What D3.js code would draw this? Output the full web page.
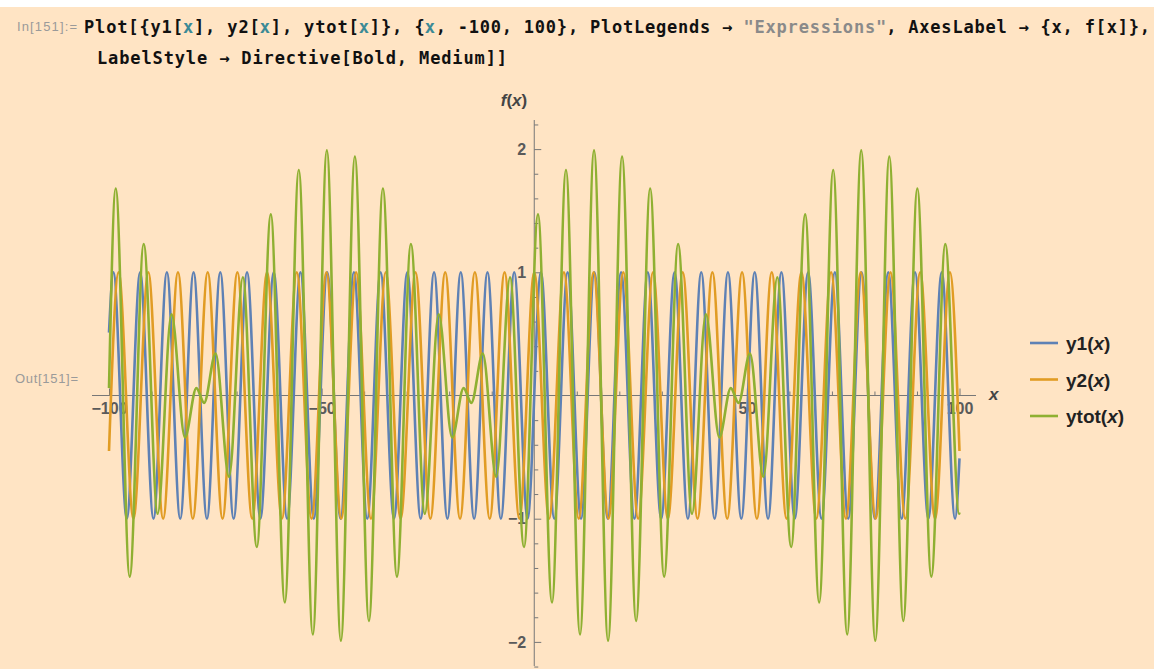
<!DOCTYPE html>
<meta charset="utf-8">
<style>

body {
  margin: 0;
  background: #fff;
}

.code {
  font: bold 17px "DejaVu Sans Mono", monospace;
  fill: #111;
}

.cell {
  font: 13px "Liberation Sans", Arial, sans-serif;
  fill: #9a9a9a;
}

.axis path {
  display: none;
}

.axis line {
  stroke: #777;
}

.axis text {
  font: bold 16px "Liberation Sans", Arial, sans-serif;
  fill: #5a5a5a;
}

.series {
  fill: none;
  stroke-width: 2.6px;
  stroke-linejoin: round;
}

.axis-label {
  font: bold 17px "Liberation Sans", Arial, sans-serif;
  fill: #444;
}

.legend text {
  font: bold 19px "Liberation Sans", Arial, sans-serif;
  fill: #222;
}

</style>
<svg width="1154" height="669"></svg>
<script src="https://cdn.jsdelivr.net/npm/d3@7"></script>
<script>

// points: both ends of the range plus every turning point
var y1X = [-100, -98.96, -95.82, -92.68, -89.54, -86.39, -83.25, -80.11, -76.97, -73.83, -70.69,
  -67.54, -64.40, -61.26, -58.12, -54.98, -51.84, -48.69, -45.55, -42.41, -39.27, -36.13, -32.99,
  -29.85, -26.70, -23.56, -20.42, -17.28, -14.14, -11.00, -7.85, -4.71, -1.57, 1.57, 4.71, 7.85,
  11.00, 14.14, 17.28, 20.42, 23.56, 26.70, 29.85, 32.99, 36.13, 39.27, 42.41, 45.55, 48.69, 51.84,
  54.98, 58.12, 61.26, 64.40, 67.54, 70.69, 73.83, 76.97, 80.11, 83.25, 86.39, 89.54, 92.68, 95.82,
  98.96, 100];
var y1Y = [0.51, 1, -1, 1, -1, 1, -1, 1, -1, 1, -1, 1, -1, 1, -1, 1, -1, 1, -1, 1, -1, 1, -1,
  1, -1, 1, -1, 1, -1, 1, -1, 1, -1, 1, -1, 1, -1, 1, -1, 1, -1, 1, -1, 1, -1, 1, -1, 1, -1,
  1, -1, 1, -1, 1, -1, 1, -1, 1, -1, 1, -1, 1, -1, 1, -1, -0.51];

var y2X = [-100, -97.74, -94.25, -90.76, -87.27, -83.78, -80.29, -76.79, -73.30, -69.81, -66.32,
  -62.83, -59.34, -55.85, -52.36, -48.87, -45.38, -41.89, -38.40, -34.91, -31.42, -27.93, -24.43,
  -20.94, -17.45, -13.96, -10.47, -6.98, -3.49, 0, 3.49, 6.98, 10.47, 13.96, 17.45, 20.94, 24.43,
  27.93, 31.42, 34.91, 38.40, 41.89, 45.38, 48.87, 52.36, 55.85, 59.34, 62.83, 66.32, 69.81, 73.30,
  76.79, 80.29, 83.78, 87.27, 90.76, 94.25, 97.74, 100];
var y2Y = [-0.45, 1, -1, 1, -1, 1, -1, 1, -1, 1, -1, 1, -1, 1, -1, 1, -1, 1, -1, 1, -1, 1, -1,
  1, -1, 1, -1, 1, -1, 1, -1, 1, -1, 1, -1, 1, -1, 1, -1, 1, -1, 1, -1, 1, -1, 1, -1, 1, -1,
  1, -1, 1, -1, 1, -1, 1, -1, 1, -0.45];

var ytotX = [-100, -98.42, -95.13, -91.84, -88.56, -85.31, -82.14, -79.45, -77.63, -74.94, -71.77,
  -68.52, -65.24, -61.95, -58.66, -55.37, -52.07, -48.77, -45.47, -42.18, -38.88, -35.59, -32.29,
  -29.01, -25.73, -22.48, -19.31, -16.61, -14.80, -12.10, -8.94, -5.69, -2.41, 0.88, 4.17, 7.46,
  10.76, 14.06, 17.36, 20.65, 23.95, 27.25, 30.54, 33.83, 37.10, 40.35, 43.52, 46.22, 48.03, 50.73,
  53.89, 57.15, 60.42, 63.71, 67.00, 70.30, 73.59, 76.89, 80.19, 83.49, 86.78, 90.08, 93.37, 96.66,
  99.93, 100];
var ytotY = [0.06, 1.68, -1.47, 1.23, -0.96, 0.66, -0.34, 0.06, -0.06, 0.34, -0.66, 0.96, -1.23,
  1.47, -1.68, 1.83, -1.94, 1.99, -1.99, 1.94, -1.83, 1.68, -1.47, 1.23, -0.96, 0.66, -0.34, 0.06,
  -0.06, 0.34, -0.66, 0.96, -1.23, 1.47, -1.68, 1.83, -1.94, 1.99, -1.99, 1.94, -1.83, 1.68, -1.47,
  1.23, -0.96, 0.66, -0.34, 0.06, -0.06, 0.34, -0.66, 0.96, -1.23, 1.47, -1.68, 1.83, -1.94, 1.99,
  -1.99, 1.94, -1.83, 1.68, -1.47, 1.23, -0.96, -0.95];

var seriesNames = ["y1", "y2", "ytot"];
var seriesColors = ["#5e81b5", "#e19c24", "#8fb032"];

var xMajor = [-100, -50, 50, 100];
var xMinor = [-90, -80, -70, -60, -40, -30, -20, -10, 10, 20, 30, 40, 60, 70, 80, 90];
var yMajor = [-2, -1, 1, 2];
var yMinor = [-2.2, -1.8, -1.6, -1.4, -1.2, -0.8, -0.6, -0.4, -0.2, 0.2, 0.4, 0.6, 0.8,
  1.2, 1.4, 1.6, 1.8, 2.2];

var codeLine1 = [
  ["Plot[{y1[", "#111"], ["x", "#3b8a96"], ["], y2[", "#111"], ["x", "#3b8a96"],
  ["], ytot[", "#111"], ["x", "#3b8a96"], ["]}, {", "#111"], ["x", "#3b8a96"],
  [", -100, 100}, PlotLegends \u2192 ", "#111"], ["\"Expressions\"", "#8a8a8a"],
  [", AxesLabel \u2192 {x, f[x]},", "#111"]
];
var codeLine2 = [["LabelStyle \u2192 Directive[Bold, Medium]]", "#111"]];

var svg = d3.select("svg"),
    width = +svg.attr("width"),
    height = +svg.attr("height");

svg.append("rect")
    .attr("x", 0).attr("y", 7)
    .attr("width", width).attr("height", height - 7)
    .attr("fill", "#ffe4c4");

// notebook cell text
function codeLine(parts, x0, x1, y) {
  var n = d3.sum(parts, function(p) { return p[0].length; }),
      cw = (x1 - x0) / n,
      t = svg.append("text").attr("class", "code").attr("y", y),
      k = 0;
  parts.forEach(function(p) {
    t.append("tspan")
        .attr("x", x0 + k * cw)
        .attr("textLength", p[0].length * cw)
        .attr("lengthAdjust", "spacing")
        .style("fill", p[1])
        .text(p[0]);
    k += p[0].length;
  });
}
codeLine(codeLine1, 84, 1150, 33);
codeLine(codeLine2, 97, 507, 64);

svg.append("text").attr("class", "cell").attr("x", 17).attr("y", 31)
    .attr("textLength", 60).attr("lengthAdjust", "spacing").text("In[151]:=");
svg.append("text").attr("class", "cell").attr("x", 15).attr("y", 383)
    .attr("textLength", 63).attr("lengthAdjust", "spacing").text("Out[151]=");

var x = d3.scaleLinear().domain([-100, 100]).range([109, 959.5]),
    y = d3.scaleLinear().domain([-2, 2]).range([641.9, 149.1]);

// axis lines
svg.append("line")
    .attr("x1", 92).attr("x2", 976)
    .attr("y1", y(0)).attr("y2", y(0))
    .attr("stroke", "#777");
svg.append("line")
    .attr("x1", x(0)).attr("x2", x(0))
    .attr("y1", 120).attr("y2", 666)
    .attr("stroke", "#777");

var gx = svg.append("g").attr("transform", "translate(0," + y(0) + ")");
gx.append("g").attr("class", "axis")
    .call(d3.axisTop(x).tickValues(xMinor).tickSize(4).tickFormat(""));
gx.append("g").attr("class", "axis")
    .call(d3.axisTop(x).tickValues(xMajor).tickSize(7).tickFormat(""));
gx.append("g").attr("class", "axis")
    .call(d3.axisBottom(x).tickValues(xMajor).tickSize(0).tickPadding(7).tickFormat(d3.format("d")));

var gy = svg.append("g").attr("transform", "translate(" + x(0) + ",0)");
gy.append("g").attr("class", "axis")
    .call(d3.axisRight(y).tickValues(yMinor).tickSize(4).tickFormat(""));
gy.append("g").attr("class", "axis")
    .call(d3.axisRight(y).tickValues(yMajor).tickSize(7).tickFormat(""));
gy.append("g").attr("class", "axis")
    .call(d3.axisLeft(y).tickValues(yMajor).tickSize(0).tickPadding(8).tickFormat(d3.format("d")));

// the three curves
var line = d3.line()
    .x(function(d) { return x(d[0]); })
    .y(function(d) { return y(d[1]); })
    .curve(d3.curveMonotoneX);

var series = [d3.zip(y1X, y1Y), d3.zip(y2X, y2Y), d3.zip(ytotX, ytotY)];

svg.selectAll(".series")
    .data(series)
  .enter().append("path")
    .attr("class", "series")
    .attr("stroke", function(d, i) { return seriesColors[i]; })
    .attr("d", line);

// axis labels
var xl = svg.append("text").attr("class", "axis-label").attr("x", 989).attr("y", 400);
xl.append("tspan").style("font-style", "italic").text("x");

var fl = svg.append("text").attr("class", "axis-label").attr("x", 514).attr("y", 106)
    .attr("text-anchor", "middle");
fl.append("tspan").style("font-style", "italic").text("f");
fl.append("tspan").text("(");
fl.append("tspan").style("font-style", "italic").text("x");
fl.append("tspan").text(")");

// legend
var legend = svg.append("g").attr("class", "legend")
  .selectAll("g")
    .data(seriesNames)
  .enter().append("g")
    .attr("transform", function(d, i) { return "translate(1030," + (343 + i * 36.5) + ")"; });

legend.append("line")
    .attr("x1", 0).attr("x2", 28)
    .attr("stroke-width", 2.6)
    .attr("stroke", function(d, i) { return seriesColors[i]; });

var lt = legend.append("text").attr("x", 36).attr("y", 7);
lt.append("tspan").text(function(d) { return d + "("; });
lt.append("tspan").style("font-style", "italic").text("x");
lt.append("tspan").text(")");

</script>
